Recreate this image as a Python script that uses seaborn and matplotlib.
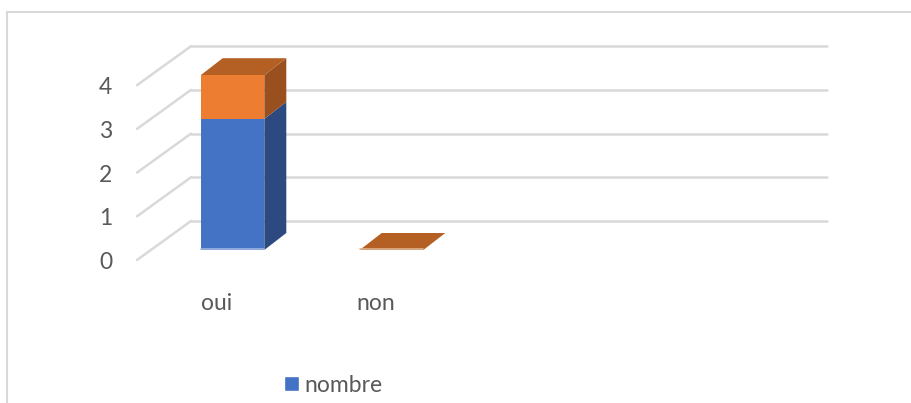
import numpy as np
import pandas as pd
import matplotlib
matplotlib.use("Agg")
import matplotlib.pyplot as plt
import seaborn as sns
from matplotlib.patches import Polygon, Patch
from matplotlib.lines import Line2D
from matplotlib.transforms import IdentityTransform

# ---- data ----
categories = ["oui", "non"]
nombre = [3, 0]
serie2 = [1, 0]
yticks = [0, 1, 2, 3, 4]
legend_label = "nombre"

# ---- style ----
sns.set_theme(style="white")
plt.rcParams["font.family"] = ["Lato", "DejaVu Sans"]
TXT = "#595959"
GRID = "#d9d9d9"
FS = 16.5
BLUE, BLUE_SIDE, BLUE_TOP, BLUE_EDGE = "#4472c4", "#2c4a80", "#3a62a8", "#9db4e2"
ORANGE, ORANGE_SIDE, ORANGE_TOP, ORANGE_EDGE = "#ed7d31", "#9a4f1e", "#b45f23", "#deb48f"

W, H = 911, 403
fig = plt.figure(figsize=(W / 100, H / 100), dpi=100)
# bar front plane: x 153..789 px, y(0)=250 px, y(4)=75.2 px (from top)
ax = fig.add_axes([153 / W, (H - 250) / H, (789 - 153) / W, 174.8 / H])

df = pd.DataFrame({"cat": categories, "nombre": nombre, "s2": serie2})
df["total"] = df["nombre"] + df["s2"]

sns.barplot(data=df, x="cat", y="total", color=ORANGE, width=0.4, ax=ax,
            saturation=1, zorder=3, linewidth=0)
sns.barplot(data=df, x="cat", y="nombre", color=BLUE, width=0.4, ax=ax,
            saturation=1, zorder=4, linewidth=0)
ax.set_xlim(-0.5, 3.5)
ax.set_ylim(0, 4)
ax.axis("off")

fig.canvas.draw()
to_disp = ax.transData.transform
ident = IdentityTransform()

def px(img_dx, img_dy):
    # image-pixel offset -> display offset (y up)
    return np.array([img_dx, -img_dy])

FRONT = px(-16, 10)
BACK = px(38, -29)
BDEPTH = px(22, -17)

# gridlines: back wall + left side wall
for v in yticks:
    p0 = to_disp((-0.5, v))
    p1 = to_disp((3.5, v))
    a = p0 + BACK
    b = p1 + BACK
    ax.add_line(Line2D([a[0], b[0]], [a[1], b[1]], transform=ident, color=GRID,
                       lw=1.8, clip_on=False, zorder=1))
    f = p0 + FRONT
    ax.add_line(Line2D([f[0], a[0]], [f[1], a[1]], transform=ident, color=GRID,
                       lw=1.8, clip_on=False, zorder=1))
    ax.text(f[0] - 25, f[1] - 9, str(v), transform=ident, ha="right",
            va="baseline", color=TXT, fontsize=FS)

# category labels
for i, c in enumerate(categories):
    p = to_disp((i, 0)) + FRONT
    ax.text(p[0], p[1] - 50, c, transform=ident, ha="center", va="baseline",
            color=TXT, fontsize=FS)

# 3D faces of the bars
patches = list(ax.patches)
n = len(categories)
orange_bars = patches[:n]
blue_bars = patches[n:2 * n]

def faces(bar, side_col, top_col, draw_top, z):
    x0, w = bar.get_x(), bar.get_width()
    y0, h = bar.get_y(), bar.get_height()
    br = to_disp((x0 + w, y0))
    tl = to_disp((x0, y0 + h)); tr = to_disp((x0 + w, y0 + h))
    if h > 0:
        side = [br, tr, tr + BDEPTH, br + BDEPTH]
        ax.add_patch(Polygon(side, closed=True, transform=ident, fc=side_col,
                             ec="none", clip_on=False, zorder=z))
    if draw_top:
        top = [tl, tr, tr + BDEPTH, tl + BDEPTH]
        ax.add_patch(Polygon(top, closed=True, transform=ident, fc=top_col,
                             ec="none", clip_on=False, zorder=z))

def bottom_edge(bar, col, z):
    x0, w = bar.get_x(), bar.get_width()
    bl = to_disp((x0, 0)); br = to_disp((x0 + w, 0))
    ax.add_line(Line2D([bl[0], br[0]], [bl[1] + 1, br[1] + 1], transform=ident,
                       color=col, lw=1.2, clip_on=False, zorder=z))

for ob, bb in zip(orange_bars, blue_bars):
    tot_h = ob.get_height()
    bh = bb.get_height()
    # orange segment sits above the blue one
    ob.set_y(bh)
    ob.set_height(tot_h - bh)
    faces(bb, BLUE_SIDE, BLUE_TOP, False, 2.5)
    faces(ob, ORANGE_SIDE, ORANGE_TOP, True, 2.6)
    bottom_edge(bb if bh > 0 else ob, BLUE_EDGE if bh > 0 else ORANGE_EDGE, 5)

# chart border (left + top)
fig.add_artist(Line2D([7, 7], [0, H - 12], transform=ident, color=GRID, lw=1.5))
fig.add_artist(Line2D([7, W], [H - 12, H - 12], transform=ident, color=GRID, lw=1.5))

# legend
fig.legend(handles=[Patch(facecolor=BLUE, label=legend_label)], loc="center",
           bbox_to_anchor=(333.5 / W, 1 - 385 / H), frameon=False,
           handlelength=0.62, handleheight=0.62, handletextpad=0.25,
           borderpad=0, fontsize=FS, labelcolor=TXT)

fig.savefig("out.png", dpi=100)
